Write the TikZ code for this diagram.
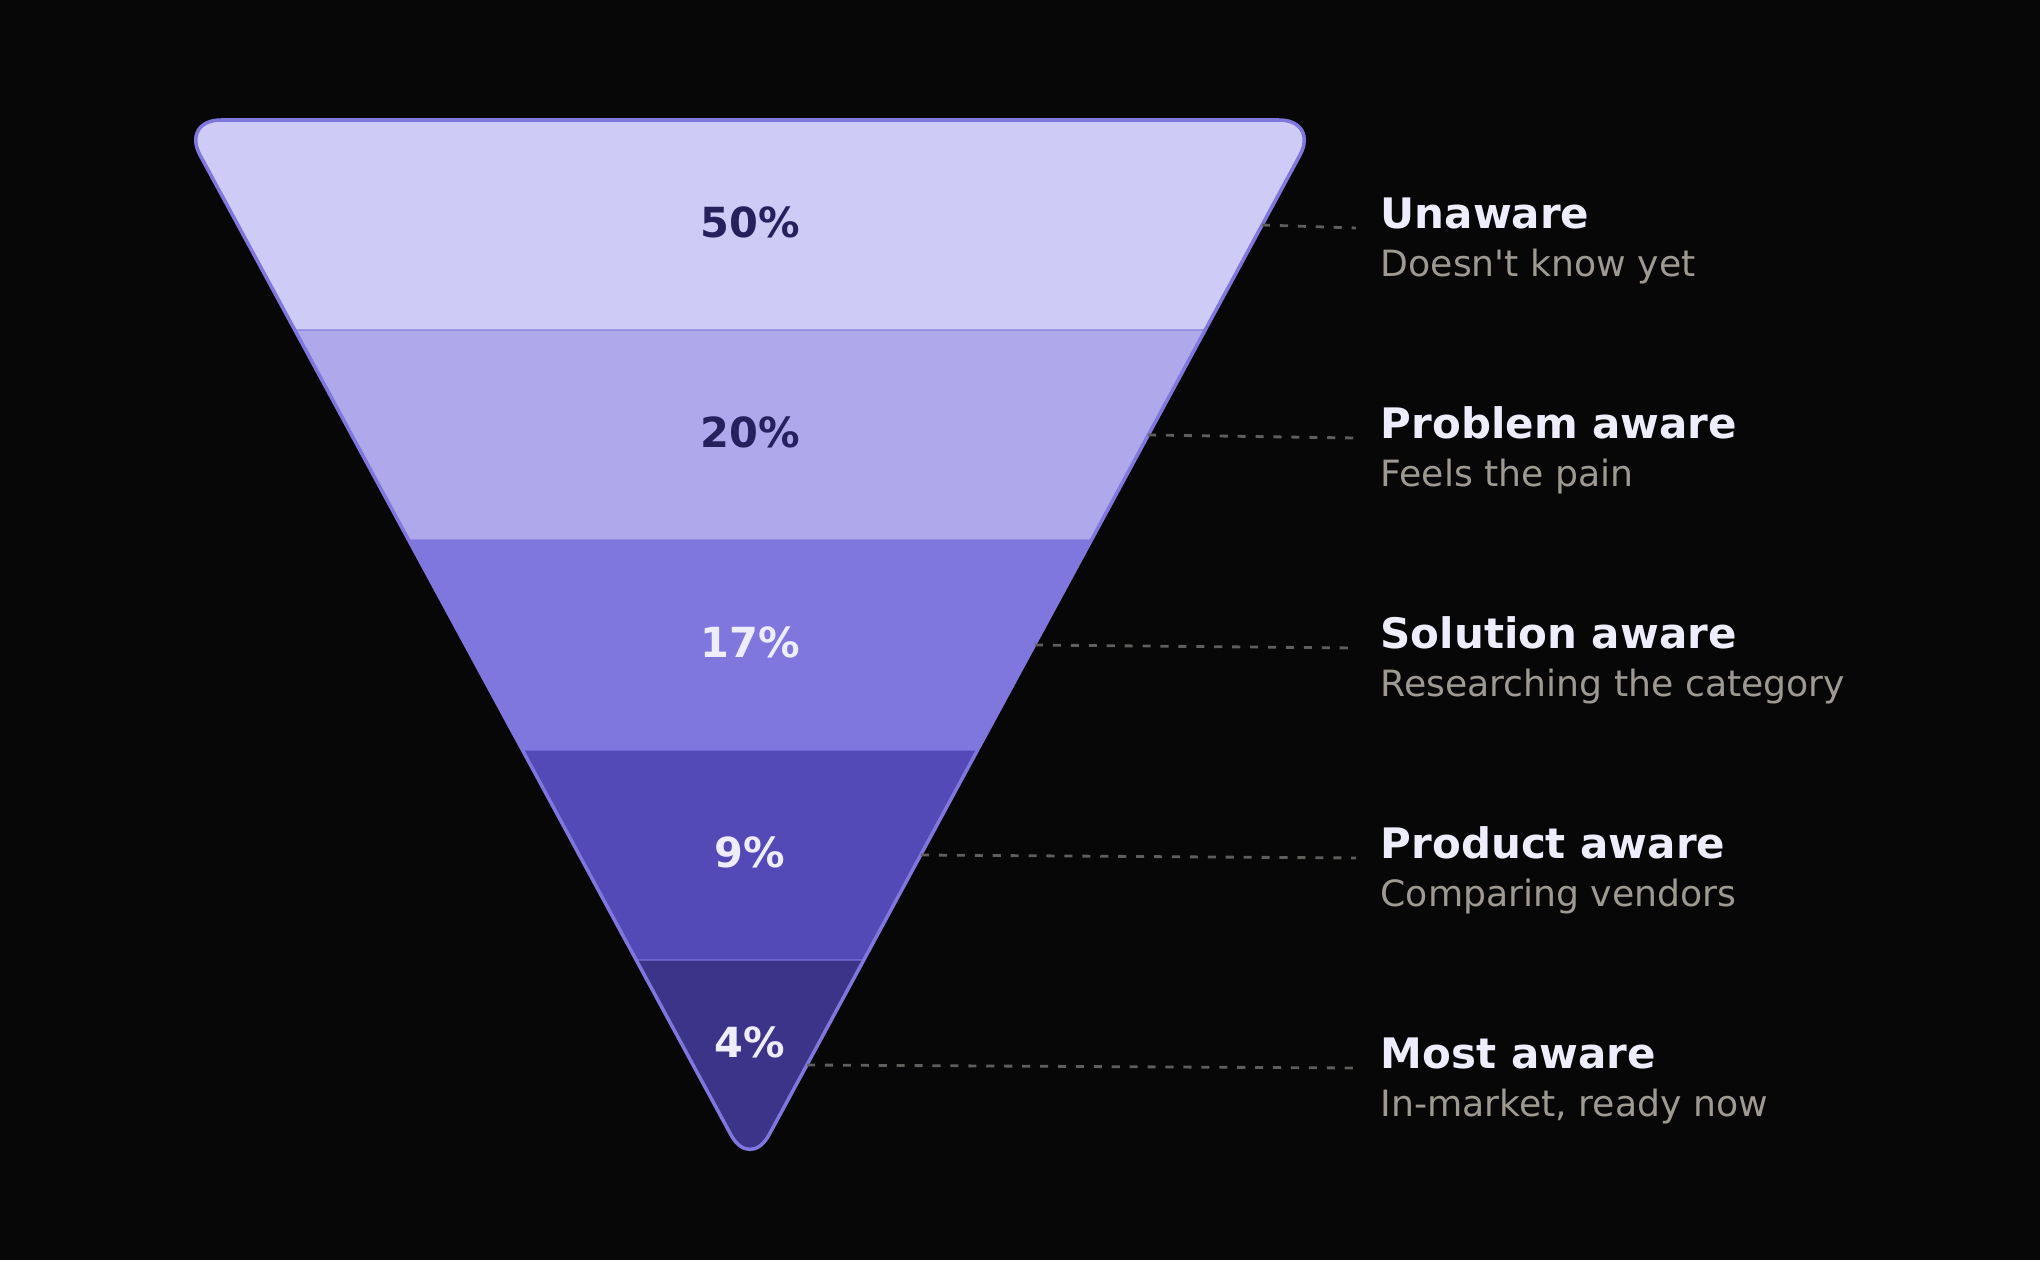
\documentclass[tikz,border=0pt]{standalone}
\usepackage{tikz}
\usetikzlibrary{calc}
\usepackage{xcolor}
\usepackage{fontspec}
\setmainfont{DejaVu Sans}[Ligatures=TeXOff]

\definecolor{bgc}{HTML}{070707}
\definecolor{bandA}{HTML}{CECBF6}
\definecolor{bandB}{HTML}{AFA9EC}
\definecolor{bandC}{HTML}{7F77DD}
\definecolor{bandD}{HTML}{534AB7}
\definecolor{bandE}{HTML}{3C3489}
\definecolor{edgec}{HTML}{7F77DD}
\definecolor{darktxt}{HTML}{26215C}
\definecolor{lighttxt}{HTML}{EEEDFE}
\definecolor{subtxt}{HTML}{9E9A92}
\definecolor{leadc}{HTML}{5F5E5A}

\begin{document}
\begin{tikzpicture}[
  pct/.style={font=\fontsize{11.8}{14}\selectfont\bfseries, anchor=base, inner sep=0pt},
  stage/.style={font=\fontsize{11.95}{14}\selectfont\bfseries, text=lighttxt, anchor=base west, inner sep=0pt},
  note/.style={font=\fontsize{10.3}{12}\selectfont, text=subtxt, anchor=base west, inner sep=0pt},
  leader/.style={draw=leadc, line width=0.8pt, dash pattern=on 2.3pt off 2.8pt},
  sep/.style={draw=edgec, draw opacity=0.6, line width=0.6pt}]
\fill[bgc] (0,0) rectangle (20.4,12.6);

% funnel bands
\begin{scope}
\clip[rounded corners=0.4cm] (7.5,11.4) -- (13.19,11.4) -- (7.5,0.9) -- (1.81,11.4) -- cycle;
\fill[bandA] (1.5,9.3) rectangle (13.5,11.6);
\fill[bandB] (1.5,7.2) rectangle (13.5,9.3);
\fill[bandC] (1.5,5.1) rectangle (13.5,7.2);
\fill[bandD] (1.5,3.0) rectangle (13.5,5.1);
\fill[bandE] (1.5,0.5) rectangle (13.5,3.0);
\draw[sep] (1.5,9.3) -- (13.5,9.3);
\draw[sep] (1.5,7.2) -- (13.5,7.2);
\draw[sep] (1.5,5.1) -- (13.5,5.1);
\draw[sep] (1.5,3.0) -- (13.5,3.0);
\end{scope}
\draw[edgec, line width=1pt, rounded corners=0.4cm] (7.5,11.4) -- (13.19,11.4) -- (7.5,0.9) -- (1.81,11.4) -- cycle;

\node[pct, text=darktxt] (p1) at (7.5,10.23) {50\%};
\node[pct, text=darktxt] (p2) at (7.5,8.13) {20\%};
\node[pct, text=lighttxt] (p3) at (7.5,6.03) {17\%};
\node[pct, text=lighttxt] (p4) at (7.5,3.93) {9\%};
\node[pct, text=lighttxt] (p5) at (7.5,2.03) {4\%};

% points on the right edge
\coordinate (e1) at (12.62,10.35);
\coordinate (e2) at (11.48,8.25);
\coordinate (e3) at (10.35,6.15);
\coordinate (e4) at (9.21,4.05);
\coordinate (e5) at (8.07,1.95);

\node[stage] (t1) at (13.80,10.32) {Unaware};
\node[note] (n1) at (13.80,9.84) {Doesn't know yet};
\node[stage] (t2) at (13.80,8.22) {Problem aware};
\node[note] (n2) at (13.80,7.74) {Feels the pain};
\node[stage] (t3) at (13.80,6.12) {Solution aware};
\node[note] (n3) at (13.80,5.64) {Researching the category};
\node[stage] (t4) at (13.80,4.02) {Product aware};
\node[note] (n4) at (13.80,3.54) {Comparing vendors};
\node[stage] (t5) at (13.80,1.92) {Most aware};
\node[note] (n5) at (13.80,1.44) {In-market, ready now};

\draw[leader] (e1) -- ([xshift=-0.24cm]t1.base west);
\draw[leader] (e2) -- ([xshift=-0.24cm]t2.base west);
\draw[leader] (e3) -- ([xshift=-0.24cm]t3.base west);
\draw[leader] (e4) -- ([xshift=-0.24cm]t4.base west);
\draw[leader] (e5) -- ([xshift=-0.24cm]t5.base west);
\end{tikzpicture}
\end{document}
